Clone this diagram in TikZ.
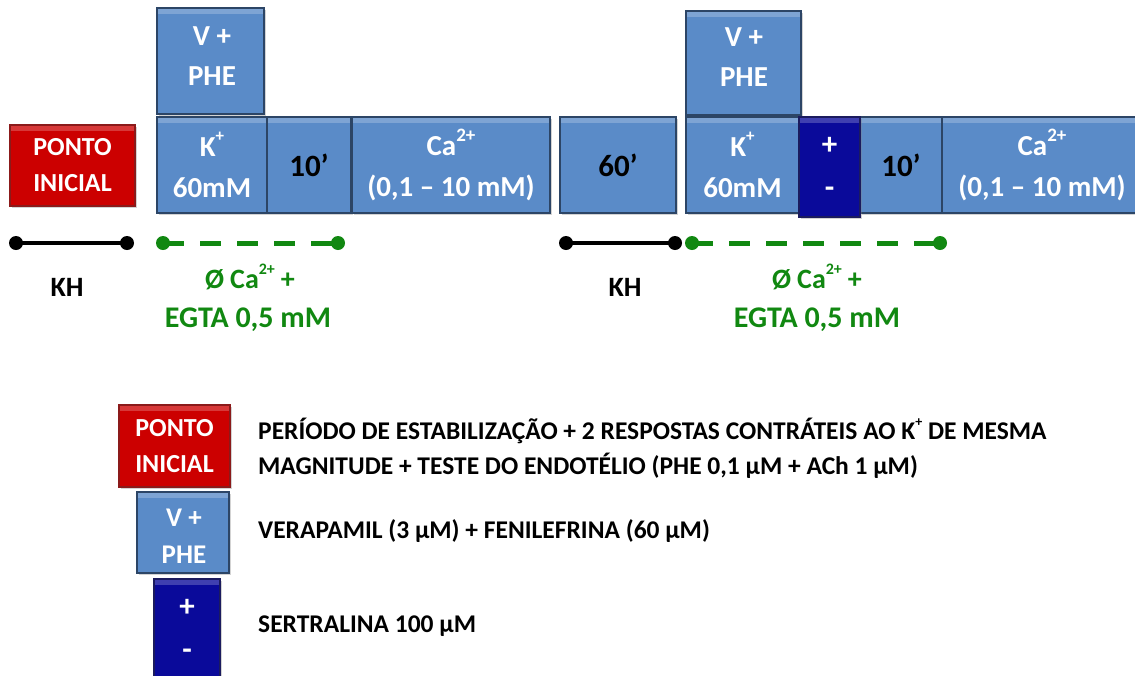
\documentclass[tikz,border=0pt]{standalone}
\usepackage{fontspec}
\setmainfont{Carlito}
\usetikzlibrary{shadows}
\definecolor{boxblue}{HTML}{5A8BC8}
\definecolor{boxedge}{HTML}{2C4566}
\definecolor{redbox}{HTML}{CC0000}
\definecolor{rededge}{HTML}{8B1A1A}
\definecolor{navybox}{HTML}{0A0A9A}
\definecolor{navyedge}{HTML}{1B1B5E}
\definecolor{dgreen}{HTML}{118811}
\newcommand\upsc[2]{\raisebox{0.5em}{\fontsize{#1}{#1}\selectfont #2}}
\tikzset{
  tbox/.style={rectangle, line width=1.5pt, inner sep=0pt, align=center,
    font=\bfseries\fontsize{29}{41}\selectfont, text=white,
    drop shadow={shadow xshift=1.5pt,shadow yshift=-1.5pt,opacity=0.35},
    path picture={\fill[white,opacity=0.22] ([yshift=-1pt]path picture bounding box.north west) rectangle ([yshift=-6pt]path picture bounding box.north east);}},
  bluebox/.style={tbox, fill=boxblue, draw=boxedge},
  redb/.style={tbox, fill=redbox, draw=rededge, font=\bfseries\fontsize{26}{36}\selectfont},
  navyb/.style={tbox, fill=navybox, draw=navyedge, font=\bfseries\fontsize{31}{43}\selectfont},
  timeb/.style={bluebox, text=black, font=\bfseries\fontsize{31}{40}\selectfont},
  boxtxt/.style={font=\bfseries\fontsize{29}{40}\selectfont, text=white, align=center, inner sep=0pt},
  khline/.style={line width=4pt, black},
  egline/.style={line width=5pt, dgreen, dash pattern=on 21pt off 16pt},
  lbl/.style={font=\bfseries\fontsize{28}{42}\selectfont, align=center},
  greenl/.style={lbl, text=dgreen, font=\bfseries\fontsize{30}{42}\selectfont},
  legtxt/.style={font=\bfseries\fontsize{25.5}{35}\selectfont, align=left, anchor=west, inner sep=0pt}
}
\begin{document}
\begin{tikzpicture}[x=1pt,y=-1pt]
\useasboundingbox (0,0) rectangle (1135,675);
\clip (0,0) rectangle (1135,675);
% left protocol
\node[redb, minimum width=125pt, minimum height=81pt] (pi) at (72.5,165.5) {PONTO\\INICIAL};
\node[bluebox, minimum width=107pt, minimum height=106pt] (vp1) at (210.5,61) {};
\node[boxtxt] (vp1t) at (212,56) {V +\\PHE};
\node[bluebox, minimum width=110pt, minimum height=96pt] (k1) at (212,165) {K\upsc{17}{+}\\60mM};
\node[timeb, minimum width=84pt, minimum height=96pt] (t1) at (309,165) {10’};
\node[bluebox, minimum width=198pt, minimum height=96pt] (ca1) at (451,165) {Ca\upsc{19}{2+}\\(0,1 – 10 mM)};
% right protocol
\node[timeb, minimum width=116pt, minimum height=96pt] (t60) at (618,165) {60’};
\node[bluebox, minimum width=115pt, minimum height=104pt] (vp2) at (743.5,63) {};
\node[boxtxt] (vp2t) at (744,57) {V +\\PHE};
\node[bluebox, minimum width=113pt, minimum height=96pt] (k2) at (742.5,165) {K\upsc{17}{+}\\60mM};
\node[timeb, minimum width=82pt, minimum height=96pt] (t2) at (901,165) {10’};
\node[bluebox, minimum width=200pt, minimum height=96pt] (ca2) at (1042,165) {Ca\upsc{19}{2+}\\(0,1 – 10 mM)};
\node[navyb, minimum width=61pt, minimum height=100pt] (s1) at (829.5,167) {+\\-};
% lines
\coordinate (a1) at (16,243); \coordinate (a2) at (127,243);
\coordinate (g1) at (163,243); \coordinate (g2) at (338,243);
\coordinate (a3) at (566,243); \coordinate (a4) at (675,243);
\coordinate (g3) at (692,243); \coordinate (g4) at (940,243);
\draw[khline] (a1) -- (a2);
\fill (a1) circle (7); \fill (a2) circle (7);
\draw[khline] (a3) -- (a4);
\fill (a3) circle (7); \fill (a4) circle (7);
\draw[egline] (g1) -- (g2);
\fill[dgreen] (g1) circle (7); \fill[dgreen] (g2) circle (7);
\draw[egline] (g3) -- (g4);
\fill[dgreen] (g3) circle (7); \fill[dgreen] (g4) circle (7);
\node[lbl] (kh1) at (67,287) {KH};
\node[lbl] (kh2) at (625,287) {KH};
\node[greenl, font=\bfseries\fontsize{28}{42}\selectfont] (eg1a) at (250,277) {Ø\hspace{6pt}Ca\upsc{16}{2+}\hspace{6pt}+};
\node[greenl] (eg1b) at (248,320) {EGTA 0,5 mM};
\node[greenl, font=\bfseries\fontsize{28}{42}\selectfont] (eg2a) at (817,277) {Ø\hspace{6pt}Ca\upsc{16}{2+}\hspace{6pt}+};
\node[greenl] (eg2b) at (817,320) {EGTA 0,5 mM};
% legend
\node[redb, minimum width=111pt, minimum height=82pt] (lpi) at (174.5,446) {PONTO\\INICIAL};
\node[bluebox, minimum width=92pt, minimum height=81pt] (lvp) at (183,532.5) {};
\node[boxtxt, font=\bfseries\fontsize{27}{37}\selectfont] (lvpt) at (184,536) {V +\\PHE};
\node[navyb, minimum width=66pt, minimum height=100pt] (ls) at (187,629) {+\\-};
\node[legtxt] (t1l) at (258,448.5) {PERÍODO DE ESTABILIZAÇÃO + 2 RESPOSTAS CONTRÁTEIS AO K\upsc{14}{+} DE MESMA\\MAGNITUDE + TESTE DO ENDOTÉLIO (PHE 0,1 µM + ACh 1 µM)};
\node[legtxt] (t2l) at (258,531) {VERAPAMIL (3 µM) + FENILEFRINA (60 µM)};
\node[legtxt] (t3l) at (258,626) {SERTRALINA 100 µM};
\end{tikzpicture}
\end{document}
